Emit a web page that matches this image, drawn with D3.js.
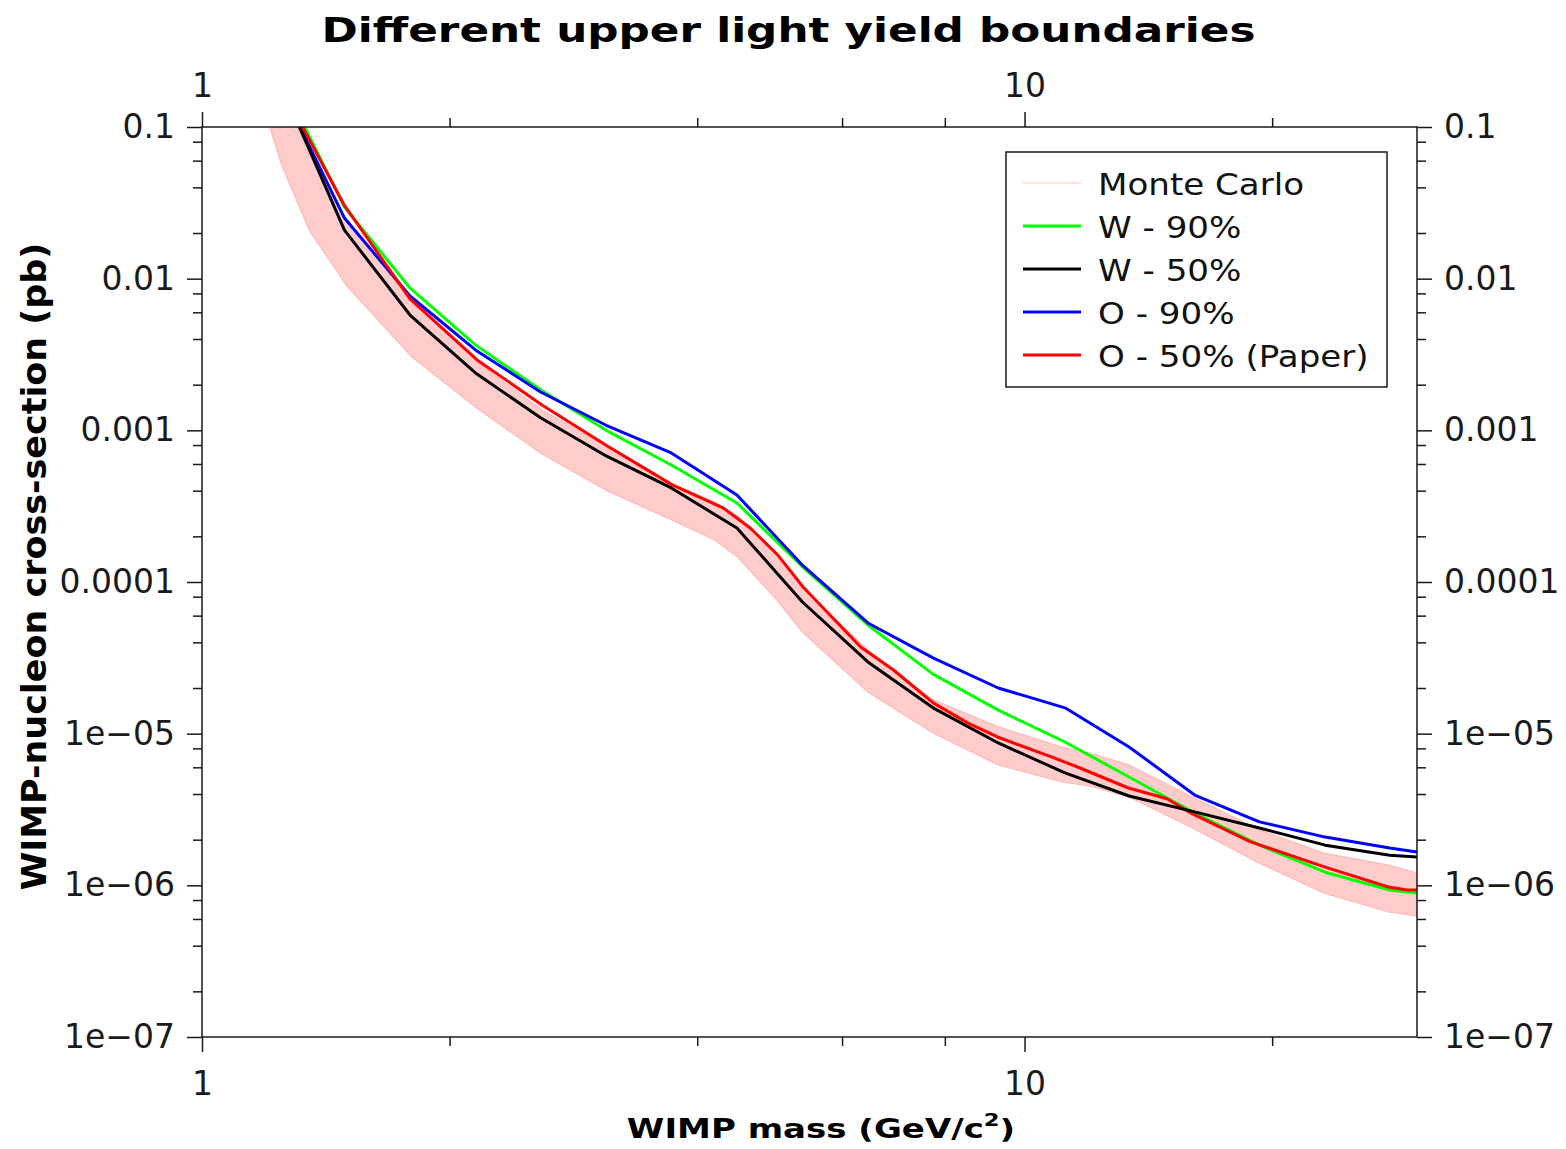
<!DOCTYPE html>
<html>
<head>
<meta charset="utf-8">
<script src="https://cdn.jsdelivr.net/npm/d3@7"></script>
<style>
  body { margin: 0; background: #fff; }
  svg { display: block; }
  text { fill: #1a1a1a; }
</style>
</head>
<body>
<svg id="chart" width="1566" height="1149"></svg>
<script>
// WIMP masses (GeV/c^2) for the W / O limit curves
const massGrid = [1.24, 1.49, 1.79, 2.15, 2.58, 3.10, 3.72, 4.47, 5.37, 6.45, 7.74, 9.29, 11.2, 13.4, 16.1, 19.3, 23.2, 27.8, 30];

// W - 90% upper light yield boundary
const w90 = [0.22, 0.0297, 0.00868, 0.00366, 0.00185, 0.00100, 0.000591, 0.000332, 0.000126, 5.21e-5, 2.47e-5, 1.43e-5, 8.81e-6, 5.18e-6, 3.00e-6, 1.84e-6, 1.22e-6, 9.31e-7, 8.90e-7];
// W - 50%
const w50 = [0.204, 0.0209, 0.00576, 0.00239, 0.00121, 0.000678, 0.000417, 0.000227, 7.38e-5, 2.97e-5, 1.48e-5, 8.68e-6, 5.51e-6, 3.88e-6, 3.05e-6, 2.39e-6, 1.84e-6, 1.58e-6, 1.54e-6];
// O - 90%
const o90 = [0.193, 0.0251, 0.00769, 0.00339, 0.00179, 0.00108, 0.00071, 0.000375, 0.000129, 5.37e-5, 3.16e-5, 2.00e-5, 1.48e-5, 8.17e-6, 3.94e-6, 2.62e-6, 2.08e-6, 1.76e-6, 1.66e-6];

// O - 50% (Paper) has its own mass sampling
const paperMass = [1.24, 1.49, 1.79, 2.16, 2.59, 3.11, 3.73, 4.30, 4.64, 5.01, 5.38, 6.32, 6.93, 7.75, 8.55, 9.27, 10.8, 11.6, 13.35, 14.9, 16.0, 18.8, 23.1, 27.7, 29.2, 30];
const o50 = [0.196, 0.0304, 0.00735, 0.00291, 0.00147, 0.000788, 0.000437, 0.000308, 0.000227, 0.000151, 9.27e-5, 3.73e-5, 2.63e-5, 1.59e-5, 1.17e-5, 9.51e-6, 7.01e-6, 6.03e-6, 4.40e-6, 3.72e-6, 2.96e-6, 1.94e-6, 1.33e-6, 9.75e-7, 9.31e-7, 9.31e-7];

// Monte Carlo band: lower and upper edges
const mcMass = [1.15, 1.25, 1.35, 1.5, 1.8, 2.16, 2.59, 3.11, 3.73, 4.2, 4.48, 5.0, 5.37, 6.45, 7.74, 9.29, 11.1, 12.0, 13.4, 16.0, 19.3, 23.1, 27.7, 30];
const mcLow = [0.238, 0.0562, 0.0209, 0.00895, 0.00304, 0.00140, 0.000698, 0.000398, 0.000256, 0.000189, 0.000146, 7.61e-5, 4.68e-5, 1.88e-5, 1.01e-5, 6.22e-6, 4.80e-6, 4.52e-6, 3.82e-6, 2.39e-6, 1.40e-6, 8.90e-7, 6.67e-7, 6.28e-7];
const mcHigh = [0.436, 0.175, 0.0654, 0.0244, 0.00723, 0.00282, 0.00136, 0.000777, 0.000443, 0.000337, 0.000272, 0.000155, 9.13e-5, 3.56e-5, 1.67e-5, 1.11e-5, 8.17e-6, 7.46e-6, 6.22e-6, 3.82e-6, 2.32e-6, 1.63e-6, 1.36e-6, 1.21e-6];

// Axis ticks
const xMajor = [1, 10];
const xMajorLabels = ["1", "10"];
const xMinor = [2, 4, 6, 8, 20];
const yMajor = [0.1, 0.01, 0.001, 0.0001, 1e-5, 1e-6, 1e-7];
const yMajorLabels = ["0.1", "0.01", "0.001", "0.0001", "1e\u221205", "1e\u221206", "1e\u221207"];
const yMinor = [];
for (let e = -7; e <= -2; e++) [2, 4, 6, 8].forEach(k => yMinor.push(k * Math.pow(10, e)));

// Legend entries
const legendLabels = ["Monte Carlo", "W - 90%", "W - 50%", "O - 90%", "O - 50% (Paper)"];
const legendColors = ["#ffc4c4", "#00ff00", "#000000", "#0000ff", "#ff0000"];

const svg = d3.select("#chart");
const L = 202, R = 1417, T = 127, B = 1037;
const x = d3.scaleLog().domain([1, 30]).range([L, R]);
const y = d3.scaleLog().domain([1e-7, 0.1]).range([B, T]);

svg.append("defs").append("clipPath").attr("id", "plotArea")
  .append("rect").attr("x", L).attr("y", T).attr("width", R - L).attr("height", B - T);

const plot = svg.append("g").attr("clip-path", "url(#plotArea)");

// Monte Carlo band
const band = d3.area()
  .x((d, i) => x(mcMass[i]))
  .y0((d, i) => y(mcLow[i]))
  .y1((d, i) => y(mcHigh[i]));
plot.append("path").datum(mcMass).attr("d", band)
  .attr("fill", "#ffcccc").attr("stroke", "#ffb8b8").attr("stroke-width", 1.2);

function curve(masses, values, color) {
  const line = d3.line().x((d, i) => x(masses[i])).y((d, i) => y(values[i]));
  plot.append("path").datum(values).attr("d", line)
    .attr("fill", "none").attr("stroke", color).attr("stroke-width", 3)
    .attr("stroke-linejoin", "round");
}
curve(massGrid, w90, "#00ff00");
curve(massGrid, o90, "#0000ff");
curve(paperMass, o50, "#ff0000");
curve(massGrid, w50, "#000000");

// Axes
const axisColor = "#1a1a1a";
const fontFamily = "'DejaVu Sans', sans-serif";
function styleAxis(g) {
  g.select(".domain").remove();
  g.selectAll("line").attr("stroke", axisColor).attr("stroke-width", 1.5);
  g.selectAll("text").attr("font-family", fontFamily).attr("font-size", 33).attr("fill", axisColor);
}

// bottom
svg.append("g").attr("transform", `translate(0,${B})`)
  .call(d3.axisBottom(x).tickValues(xMajor).tickSize(15).tickPadding(20)
    .tickFormat((d, i) => xMajorLabels[i])).call(styleAxis);
svg.append("g").attr("transform", `translate(0,${B})`)
  .call(d3.axisBottom(x).tickValues(xMinor).tickSize(9).tickFormat("")).call(styleAxis);
// top
svg.append("g").attr("transform", `translate(0,${T})`)
  .call(d3.axisTop(x).tickValues(xMajor).tickSize(15).tickPadding(15)
    .tickFormat((d, i) => xMajorLabels[i])).call(styleAxis);
svg.append("g").attr("transform", `translate(0,${T})`)
  .call(d3.axisTop(x).tickValues(xMinor).tickSize(9).tickFormat("")).call(styleAxis);
// left
svg.append("g").attr("transform", `translate(${L},0)`)
  .call(d3.axisLeft(y).tickValues(yMajor).tickSize(15).tickPadding(12)
    .tickFormat((d, i) => yMajorLabels[i])).call(styleAxis);
svg.append("g").attr("transform", `translate(${L},0)`)
  .call(d3.axisLeft(y).tickValues(yMinor).tickSize(9).tickFormat("")).call(styleAxis);
// right
svg.append("g").attr("transform", `translate(${R},0)`)
  .call(d3.axisRight(y).tickValues(yMajor).tickSize(15).tickPadding(12)
    .tickFormat((d, i) => yMajorLabels[i])).call(styleAxis);
svg.append("g").attr("transform", `translate(${R},0)`)
  .call(d3.axisRight(y).tickValues(yMinor).tickSize(9).tickFormat("")).call(styleAxis);

// frame
svg.append("rect").attr("x", L).attr("y", T).attr("width", R - L).attr("height", B - T)
  .attr("fill", "none").attr("stroke", axisColor).attr("stroke-width", 1.5);

// Title (wide bold lettering)
svg.append("g").attr("transform", "translate(788.5,42) scale(1.324,1)")
  .append("text").attr("text-anchor", "middle")
  .attr("font-family", fontFamily).attr("font-weight", "bold").attr("font-size", 33)
  .style("fill", "#000")
  .text("Different upper light yield boundaries");

// X axis title
const xt = svg.append("g").attr("transform", "translate(821,1138) scale(1.26,1)")
  .append("text").attr("text-anchor", "middle")
  .attr("font-family", fontFamily).attr("font-weight", "bold").attr("font-size", 27)
  .style("fill", "#000");
xt.append("tspan").text("WIMP mass (GeV/c");
xt.append("tspan").attr("font-size", 18).attr("dy", -12).text("2");
xt.append("tspan").attr("dy", 12).text(")");

// Y axis title
svg.append("g").attr("transform", "translate(46,566.5) rotate(-90) scale(1.142,1)")
  .append("text").attr("text-anchor", "middle")
  .attr("font-family", "'DejaVu Sans Condensed', 'DejaVu Sans', sans-serif").attr("font-stretch", "condensed")
  .attr("font-weight", "bold").attr("font-size", 34)
  .style("fill", "#000")
  .text("WIMP-nucleon cross-section (pb)");

// Legend
const lg = svg.append("g");
lg.append("rect").attr("x", 1006).attr("y", 152).attr("width", 381).attr("height", 235)
  .attr("fill", "#fff").attr("stroke", axisColor).attr("stroke-width", 1.5);
legendLabels.forEach((lab, i) => {
  const cy = 183 + i * 43;
  lg.append("line").attr("x1", 1023).attr("x2", 1081).attr("y1", cy).attr("y2", cy)
    .attr("stroke", legendColors[i]).attr("stroke-width", i === 0 ? 1.2 : 3);
  lg.append("g").attr("transform", `translate(1098,${cy + 12}) scale(1.1,1)`)
    .append("text")
    .attr("font-family", fontFamily).attr("font-size", 31).style("fill", "#111").text(lab);
});
</script>
</body>
</html>
